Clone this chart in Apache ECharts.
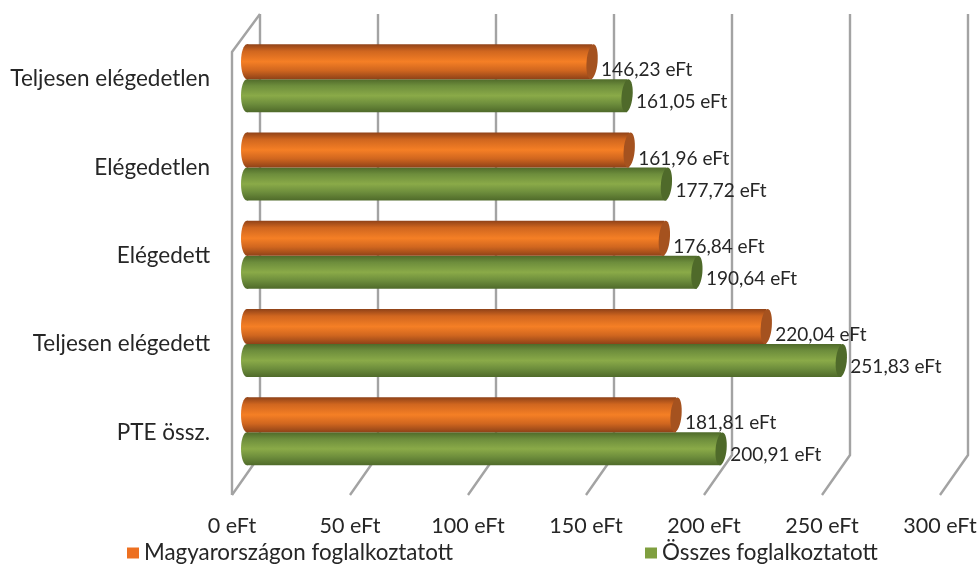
<!DOCTYPE html>
<html><head><meta charset="utf-8">
<style>html,body{margin:0;padding:0;background:#fff}#c{width:980px;height:567px}</style>
<script src="https://cdn.jsdelivr.net/npm/echarts@6/dist/echarts.min.js"></script>
</head><body><div id="c"></div>
<script>
const categories = ['Teljesen elégedetlen','Elégedetlen','Elégedett','Teljesen elégedett','PTE össz.'];
const hungary = [146.23,161.96,176.84,220.04,181.81];
const total = [161.05,177.72,190.64,251.83,200.91];
const ticks = [0,50,100,150,200,250,300];
const FONT = 'Lato';
const TXT = '#262626';
const fmt = v => v.toFixed(2).replace('.',',') + ' eFt';
const chart = echarts.init(document.getElementById('c'));

function grad(a,b,c){
  return new echarts.graphic.LinearGradient(0,0,0,1,[
    {offset:0,color:a},{offset:0.2,color:b},{offset:0.5,color:c},{offset:0.75,color:b},{offset:1,color:a}]);
}
function barRender(top,h,colors,capColor,labelDy){
  return function(params,api){
    const val = api.value(0);
    const p = api.coord([val,api.value(1)]);
    const z = api.coord([0,api.value(1)]);
    const x0 = z[0]+15, x1 = p[0]+15, y = p[1]+top;
    const fill = () => grad(colors[0],colors[1],colors[2]);
    return {type:'group',children:[
      {type:'ellipse',shape:{cx:x0,cy:y+h/2,rx:6,ry:h/2},style:{fill:fill()}},
      {type:'rect',shape:{x:x0,y:y,width:x1-x0,height:h},style:{fill:fill()}},
      {type:'ellipse',shape:{cx:x1,cy:y+h/2,rx:5.5,ry:h/2},rotation:-0.09,originX:x1,originY:y+h/2,
        style:{fill:capColor}},
      {type:'text',x:x1+9,y:y+h/2+labelDy,
        style:{text:fmt(val),font:'19px '+FONT,fill:TXT,verticalAlign:'middle',align:'left'}}
    ]};
  };
}
function gridRender(params,api){
  const cs = params.coordSys;
  const x = api.coord([api.value(0),0])[0];
  const top = cs.y-21, backBottom = cs.y+cs.height-21.5, frontBottom = cs.y+cs.height+18.5;
  const ls = {stroke:'#a3a3a3',lineWidth:2.4,fill:'none'};
  const kids = [{type:'polyline',shape:{points:[[x+28,top],[x+28,backBottom],[x,frontBottom]]},style:ls}];
  if(api.value(0)===0){
    kids.push({type:'polyline',shape:{points:[[x+28,top],[x,top+38],[x,frontBottom]]},style:ls});
  }
  return {type:'group',children:kids};
}
chart.setOption({
  animation:false,
  backgroundColor:'#fff',
  grid:{left:232,right:40,top:35,height:441.5},
  xAxis:{type:'value',min:0,max:300,interval:50,
    axisLine:{show:false},axisTick:{show:false},splitLine:{show:false},
    axisLabel:{margin:39,fontFamily:FONT,fontSize:21.5,color:TXT,formatter:v=>v+' eFt'}},
  yAxis:{type:'category',inverse:true,data:categories,
    axisLine:{show:false},axisTick:{show:false},splitLine:{show:false},
    axisLabel:{margin:22,fontFamily:FONT,fontSize:22.5,color:TXT,padding:[0,0,2,0]}},
  legend:{left:122,top:537,itemWidth:12,itemHeight:11,itemGap:192,icon:'rect',
    data:['Magyarországon foglalkoztatott','Összes foglalkoztatott'],
    textStyle:{fontFamily:FONT,fontSize:22.4,color:TXT}},
  series:[
    {type:'custom',name:'rács',silent:true,z:1,clip:false,coordinateSystem:'cartesian2d',
      renderItem:gridRender,encode:{x:0},data:ticks.map(t=>[t])},
    {type:'custom',name:'Összes foglalkoztatott',z:2,clip:false,itemStyle:{color:'#7f9f3f'},
      renderItem:barRender(0,33,['#4f6a2a','#6d8d3c','#8aaa48'],'#4f6a2a',6.5),
      encode:{x:0,y:1},data:total.map((v,i)=>[v,i])},
    {type:'custom',name:'Magyarországon foglalkoztatott',z:2,clip:false,itemStyle:{color:'#ed7021'},
      renderItem:barRender(-35,35,['#8f4218','#d0661f','#f57f25'],'#a5521f',8.5),
      encode:{x:0,y:1},data:hungary.map((v,i)=>[v,i])}
  ]
});
</script></body></html>
